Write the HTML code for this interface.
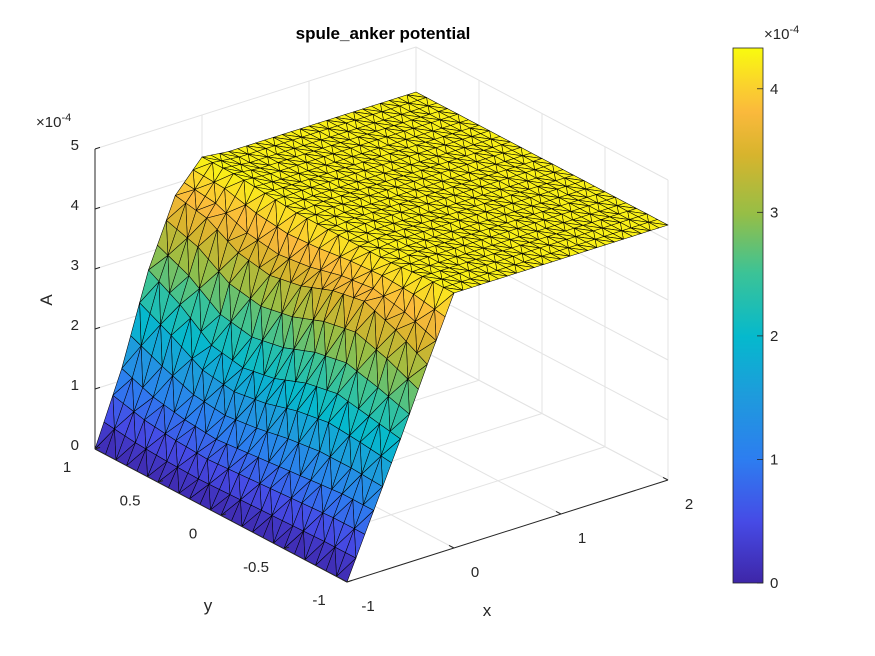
<!DOCTYPE html>
<html><head><meta charset="utf-8"><style>
body{margin:0;background:#fff}
svg{display:block;font-family:"Liberation Sans",sans-serif}
</style></head><body>
<svg id="chart" width="875" height="656" viewBox="0 0 875 656">
<rect width="875" height="656" fill="#fff"/>
<g id="grid"></g>
<g id="surf"></g>
<g id="axes"></g>
<text x="383" y="39" text-anchor="middle" font-size="17" font-weight="bold" fill="#000">spule_anker potential</text>
<text x="52" y="300" text-anchor="middle" font-size="17" fill="#262626" transform="rotate(-90 52 300)">A</text>
<text x="208" y="611" text-anchor="middle" font-size="17" fill="#262626">y</text>
<text x="487" y="616" text-anchor="middle" font-size="17" fill="#262626">x</text>
<text x="36" y="127" font-size="15" fill="#262626">×10<tspan dy="-6" font-size="11">-4</tspan></text>
<text x="764" y="39" font-size="15" fill="#262626">×10<tspan dy="-6" font-size="11">-4</tspan></text>
<defs><linearGradient id="pg" x1="0" y1="1" x2="0" y2="0"></linearGradient></defs>
<rect x="733" y="48" width="30" height="535" fill="url(#pg)" stroke="#262626" stroke-width="0.8"/>
<g id="cbt"></g>
</svg>
<script>
const xs=[-1,-0.75,-0.5,-0.25,0,0.25,0.5,0.75,1,1.25,1.5,1.75,2];
const ys=[-1,-0.75,-0.5,-0.25,0,0.25,0.5,0.75,1];
// A values (×1e-4), rows by y, columns by x
const zRows=[
[0,1.05,2.1,3.2,4.25,4.25,4.25,4.25,4.25,4.25,4.25,4.25,4.25],
[0,1.05,2.2,3.5,4.25,4.25,4.25,4.25,4.25,4.25,4.25,4.25,4.25],
[0,1.0,2.3,3.7,4.2,4.25,4.25,4.25,4.25,4.25,4.25,4.25,4.25],
[0,0.95,2.2,3.6,4.2,4.25,4.25,4.25,4.25,4.25,4.25,4.25,4.25],
[0,0.9,2.0,3.4,4.2,4.25,4.25,4.25,4.25,4.25,4.25,4.25,4.25],
[0,0.85,1.9,3.3,4.2,4.25,4.25,4.25,4.25,4.25,4.25,4.25,4.25],
[0,0.9,2.0,3.4,4.25,4.25,4.25,4.25,4.25,4.25,4.25,4.25,4.25],
[0,1.0,2.4,3.7,4.3,4.25,4.25,4.25,4.25,4.25,4.25,4.25,4.25],
[0,1.2,2.7,3.8,4.3,4.25,4.25,4.25,4.25,4.25,4.25,4.25,4.25]];
const zTicks=[0,1,2,3,4,5];
const yTicks=[1,0.5,0,-0.5,-1];
const yTickLabels=["1","0.5","0","-0.5","-1"];
const xTicks=[-1,0,1,2];
const cbTicks=[0,1,2,3,4];
const cmin=0,cmax=4.33;
const cmapPos=[0,0.115,0.23,0.35,0.46,0.58,0.69,0.80,0.88,0.93,1];
const cmapCol=[[62,38,168],[70,75,230],[45,125,240],[30,155,220],[5,185,205],[60,195,150],[150,190,70],[215,180,45],[250,185,60],[250,210,45],[249,251,14]];
const NS="http://www.w3.org/2000/svg";
function P(x,y,z){return [95+107*(x+1)+126*(1-y),449-34*(x+1)+66.5*(1-y)-60*z];}
function cmap(v){let t=Math.max(0,Math.min(1,(v-cmin)/(cmax-cmin)));let i=0;while(i<cmapPos.length-2&&t>cmapPos[i+1])i++;const f=(t-cmapPos[i])/(cmapPos[i+1]-cmapPos[i]);const a=cmapCol[i],b=cmapCol[i+1];return `rgb(${a.map((c,k)=>Math.round(c+(b[k]-c)*f)).join(',')})`;}
function mk(tag,attrs,parent){const e=document.createElementNS(NS,tag);for(const k in attrs)e.setAttribute(k,attrs[k]);parent.appendChild(e);return e;}
const pg=document.getElementById('pg');
cmapCol.forEach((c,i)=>{mk('stop',{offset:cmapPos[i],'stop-color':`rgb(${c})`},pg);});
const G=document.getElementById('grid');
function line(a,b,par,col,w){return mk('line',{x1:a[0],y1:a[1],x2:b[0],y2:b[1],stroke:col,'stroke-width':w},par);}
zTicks.forEach(z=>{let l=line(P(-1,1,z),P(2,1,z),G,'#e3e3e3',1);
l=line(P(2,1,z),P(2,-1,z),G,'#e3e3e3',1);});
xTicks.forEach(x=>{let l=line(P(x,1,0),P(x,1,5),G,'#e3e3e3',1);
l=line(P(x,1,0),P(x,-1,0),G,'#e3e3e3',1);});
yTicks.forEach(y=>{let l=line(P(2,y,0),P(2,y,5),G,'#e3e3e3',1);
l=line(P(-1,y,0),P(2,y,0),G,'#e3e3e3',1);});
const S=document.getElementById('surf');
const sub=3;const tris=[];
function Z(i,j,u,v){return zRows[j][i]*(1-u)*(1-v)+zRows[j][i+1]*u*(1-v)+zRows[j+1][i]*(1-u)*v+zRows[j+1][i+1]*u*v;}
for(let j=0;j<ys.length-1;j++)for(let i=0;i<xs.length-1;i++){
 for(let b=0;b<sub;b++)for(let a=0;a<sub;a++){
  const pts=[];
  [[a,b],[a+1,b],[a+1,b+1],[a,b+1]].forEach(([p,q])=>{const u=p/sub,v=q/sub;pts.push([xs[i]+(xs[i+1]-xs[i])*u,ys[j]+(ys[j+1]-ys[j])*v,Z(i,j,u,v)]);});
  const flip=(a+b)%2;
  const T=flip?[[0,1,2],[0,2,3]]:[[0,1,3],[1,2,3]];
  T.forEach(t=>{const q=t.map(k=>pts[k]);const cx=(q[0][0]+q[1][0]+q[2][0])/3,cy=(q[0][1]+q[1][1]+q[2][1])/3,cz=(q[0][2]+q[1][2]+q[2][2])/3;tris.push({q,d:126*cx+107*cy,cz});});
 }}
tris.sort((a,b)=>b.d-a.d);
tris.forEach(t=>{const p=mk('polygon',{points:t.q.map(v=>P(v[0],v[1],v[2]).join(',')).join(' '),fill:cmap(t.cz),stroke:'#000','stroke-width':0.55,'stroke-linejoin':'round'},S);

});
const A=document.getElementById('axes');
let al=line(P(-1,1,0),P(-1,1,5),A,'#262626',1);
al=line(P(-1,1,0),P(-1,-1,0),A,'#262626',1);
al=line(P(-1,-1,0),P(2,-1,0),A,'#262626',1);
function txt(x,y,s,anchor,par){const t=mk('text',{x,y,'text-anchor':anchor,'font-size':15,fill:'#262626'},par);t.textContent=s;return t;}
zTicks.forEach(z=>{const p=P(-1,1,z);let l=line(p,[p[0]+5,p[1]-1.6],A,'#262626',1);
const t=txt(p[0]-16,p[1]+1,String(z),'end',A);});
yTicks.forEach((y,k)=>{const p=P(-1,y,0);let l=line(p,[p[0]+5,p[1]-1.6],A,'#262626',1);
const t=txt(p[0]-28,p[1]+23,yTickLabels[k],'middle',A);});
xTicks.forEach(x=>{const p=P(x,-1,0);let l=line(p,[p[0]-5,p[1]-2.6],A,'#262626',1);
const t=txt(p[0]+21,p[1]+29,String(x),'middle',A);});
const C=document.getElementById('cbt');
cbTicks.forEach(v=>{const y=583-(v-cmin)/(cmax-cmin)*535;let l=line([757,y],[763,y],C,'#262626',0.8);
const t=txt(770,y+5,String(v),'start',C);});
</script>
</body></html>
